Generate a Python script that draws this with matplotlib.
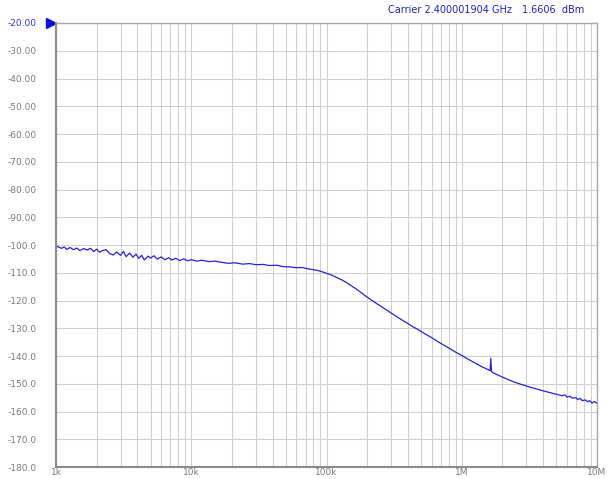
import matplotlib.pyplot as plt
from matplotlib.ticker import FixedLocator, NullFormatter

# Дані фазового шуму (частота зміщення, Гц / рівень, dBc/Hz)
freq_k = [1.0, 1.05, 1.1, 1.15, 1.2, 1.27, 1.35, 1.42, 1.5, 1.6, 1.7, 1.8, 1.9, 2.0,
          2.1, 2.2, 2.35, 2.5, 2.65, 2.8, 3.0, 3.15, 3.3, 3.5, 3.7, 3.9, 4.1, 4.3,
          4.5, 4.8, 5.0, 5.3, 5.6, 6.0, 6.4, 6.8, 7.2, 7.7, 8.2, 8.8, 9.4, 10,
          11, 12, 13.5, 15, 17, 19, 21, 24, 27, 30, 34, 38, 43, 48, 54, 60, 66,
          73, 80, 88, 95, 100, 110, 120, 130, 140, 155, 170, 185, 200, 220, 240,
          260, 290, 320, 350, 390, 430, 480, 530, 590, 650, 720, 800, 900, 1000,
          1120, 1250, 1400, 1550, 1620, 1640, 1660, 1700, 1800, 2000, 2200, 2450,
          2700, 3000, 3300, 3700, 4100, 4500, 5000, 5500, 5800, 6000, 6300, 6600,
          7000, 7200, 7500, 7800, 8200, 8500, 8800, 9200, 9600, 10000]
level = [-100.3, -100.8, -101.2, -100.7, -101.6, -100.9, -101.7, -101.1, -102.0, -101.3,
         -101.8, -101.2, -102.4, -101.5, -102.6, -102.0, -101.7, -103.1, -103.6, -102.5,
         -103.7, -102.3, -104.2, -102.9, -104.4, -103.3, -104.8, -103.7, -105.4, -104.0,
         -104.7, -103.9, -105.1, -104.3, -105.3, -104.6, -105.4, -104.8, -105.6, -105.0,
         -105.7, -105.3, -105.8, -105.5, -106.0, -105.8, -106.3, -106.6, -106.4, -106.9,
         -106.7, -107.1, -107.0, -107.4, -107.3, -107.8, -107.9, -108.2, -108.1, -108.6,
         -108.9, -109.3, -109.8, -110.2, -110.9, -111.8, -112.6, -113.5, -114.9, -116.2,
         -117.6, -118.8, -120.2, -121.4, -122.5, -124.0, -125.4, -126.6, -128.0, -129.3,
         -130.6, -131.9, -133.2, -134.5, -135.8, -137.1, -138.6, -139.8, -141.2, -142.5,
         -143.8, -144.8, -145.3, -140.8, -145.6, -146.0, -146.6, -147.6, -148.5, -149.4,
         -150.1, -150.8, -151.4, -152.1, -152.7, -153.2, -153.8, -154.3, -154.0, -154.8,
         -154.5, -155.2, -155.0, -155.7, -155.3, -156.1, -155.8, -156.5, -156.1, -156.9,
         -156.4, -157.1]
freq = [f * 1000 for f in freq_k]

y_ticks = list(range(-20, -181, -10))
y_labels = ['-20.00', '-30.00', '-40.00', '-50.00', '-60.00', '-70.00', '-80.00', '-90.00',
            '-100.0', '-110.0', '-120.0', '-130.0', '-140.0', '-150.0', '-160.0',
            '-170.0', '-180.0']
x_ticks = [1e3, 1e4, 1e5, 1e6, 1e7]
x_labels = ['1k', '10k', '100k', '1M', '10M']

fig = plt.figure(figsize=(6.13, 4.79), dpi=100)
ax = fig.add_axes([56 / 613, 12 / 479, 541 / 613, 444 / 479])

ax.plot(freq, level, color='#2424d4', linewidth=0.9)

ax.set_xscale('log')
ax.set_xlim(1e3, 1e7)
ax.set_ylim(-180, -20)

ax.set_xticks(x_ticks)
ax.set_xticklabels(x_labels)
minor = [m * 10 ** d for d in range(3, 7) for m in range(2, 10)]
ax.xaxis.set_minor_locator(FixedLocator(minor))
ax.xaxis.set_minor_formatter(NullFormatter())
ax.set_yticks(y_ticks)
ax.set_yticklabels(y_labels)

ax.grid(True, which='both', color='#d0d0d0', linewidth=0.8)
ax.tick_params(which='both', length=0, labelsize=6.5, labelcolor='#7a7a7a')
ax.tick_params(axis='y', pad=14)
ax.tick_params(axis='x', pad=1)
ax.get_yticklabels()[0].set_color('#3030e0')

for side in ['left', 'bottom']:
    ax.spines[side].set_color('#8a8a8a')
    ax.spines[side].set_linewidth(1.5)
for side in ['right', 'top']:
    ax.spines[side].set_color('#a8a8a8')
    ax.spines[side].set_linewidth(1.0)

# маркер опорного рівня
ax.plot([-0.009], [1], marker='>', color='#1010e0', markersize=7,
        transform=ax.transAxes, clip_on=False)

fig.text(512 / 613, 1 - 10 / 479, 'Carrier 2.400001904 GHz', ha='right', va='center',
         fontsize=7, color='#2020c0')
fig.text(584 / 613, 1 - 10 / 479, '1.6606  dBm', ha='right', va='center',
         fontsize=7, color='#2020c0')

fig.savefig('out.png', dpi=100)
